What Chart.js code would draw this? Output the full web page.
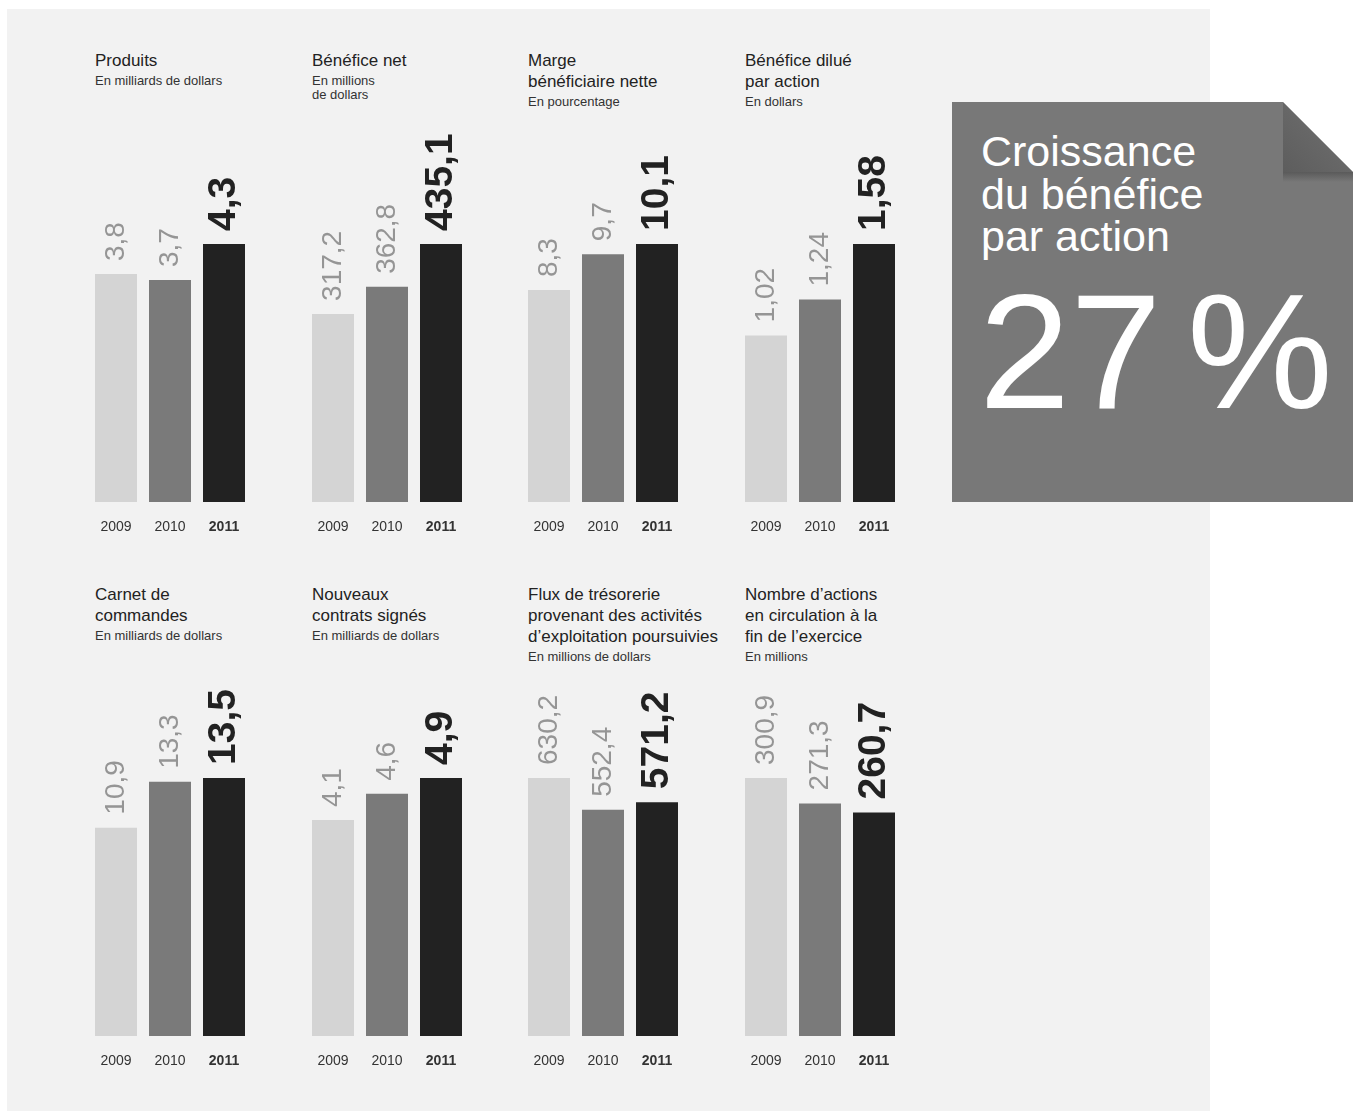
<!DOCTYPE html>
<html lang="fr">
<head>
<meta charset="utf-8">
<title>Faits saillants financiers</title>
<script src="https://cdn.jsdelivr.net/npm/chart.js@4"></script>
<style>
  body { margin: 0; background: #fff; font-family: "Liberation Sans", Arial, sans-serif; }
  #page { position: relative; width: 1354px; height: 1111px; overflow: hidden; }
  #panel { position: absolute; left: 7px; top: 9px; width: 1203px; height: 1102px; background: #f2f2f2; }
  .bloc { position: absolute; width: 200px; color: #222; }
  .titre { font-size: 17px; line-height: 21px; }
  .unite { font-size: 13px; line-height: 14px; margin-top: 3px; color: #333; }
  canvas.mini { position: absolute; }
  #encart { position: absolute; left: 952px; top: 102px; width: 401px; height: 400px; background: #787878;
    clip-path: polygon(0 0, 331px 0, 401px 70px, 401px 100%, 0 100%); }
  #encart .txt { position: absolute; left: 29px; top: 28px; color: #fff; font-size: 43px; line-height: 42.5px; }
  #encart .big { position: absolute; left: 27px; top: 167px; color: #fff; font-size: 164px; line-height: 166px; word-spacing: -20px; }
  #ombre { position: absolute; left: 331px; top: 70px; width: 70px; height: 10px;
    background: linear-gradient(to bottom, rgba(0,0,0,0.25), rgba(0,0,0,0)); }
  #pli { position: absolute; left: 331px; top: 0; width: 70px; height: 70px;
    background: linear-gradient(45deg, #5d5d5d, #727272);
    clip-path: polygon(0 0, 0 100%, 100% 100%); }
</style>
</head>
<body>
<div id="page">
  <div id="panel"></div>
  <div id="encart">
    <div id="ombre"></div>
    <div id="pli"></div>
    <div class="txt">Croissance<br>du bénéfice<br>par action</div>
    <div class="big">27 %</div>
  </div>
</div>
<script>
// données
const annees = ['2009', '2010', '2011'];
const produits = [3.8, 3.7, 4.3];
const beneficeNet = [317.2, 362.8, 435.1];
const margeNette = [8.3, 9.7, 10.1];
const beneficeDilue = [1.02, 1.24, 1.58];
const carnetCommandes = [10.9, 13.3, 13.5];
const nouveauxContrats = [4.1, 4.6, 4.9];
const fluxTresorerie = [630.2, 552.4, 571.2];
const nombreActions = [300.9, 271.3, 260.7];

const titres = [
  ['Produits', 'En milliards de dollars'],
  ['Bénéfice net', 'En millions<br>de dollars'],
  ['Marge<br>bénéficiaire nette', 'En pourcentage'],
  ['Bénéfice dilué<br>par action', 'En dollars'],
  ['Carnet de<br>commandes', 'En milliards de dollars'],
  ['Nouveaux<br>contrats signés', 'En milliards de dollars'],
  ['Flux de trésorerie<br>provenant des activités<br>d’exploitation poursuivies', 'En millions de dollars'],
  ['Nombre d’actions<br>en circulation à la<br>fin de l’exercice', 'En millions']
];
const series = [produits, beneficeNet, margeNette, beneficeDilue,
  carnetCommandes, nouveauxContrats, fluxTresorerie, nombreActions];

const couleurs = ['#d4d4d4', '#7a7a7a', '#222222'];
const colonnes = [89, 306, 522, 739];
const page = document.getElementById('page');
const police = '"Liberation Sans", Arial, sans-serif';

// étiquettes verticales au-dessus des barres
const etiquettes = {
  id: 'etiquettes',
  afterDatasetsDraw(chart) {
    const c = chart.ctx;
    const meta = chart.getDatasetMeta(0);
    const valeurs = chart.data.datasets[0].data;
    meta.data.forEach((barre, i) => {
      c.save();
      c.translate(barre.x, barre.y - 13);
      c.rotate(-Math.PI / 2);
      c.textAlign = 'left';
      c.textBaseline = 'middle';
      if (i === 2) {
        c.font = 'bold 39px ' + police;
        c.fillStyle = '#222';
      } else {
        c.font = '28px ' + police;
        c.fillStyle = '#959595';
      }
      c.fillText(String(valeurs[i]).replace('.', ','), 0, 0);
      c.restore();
    });
  }
};

series.forEach((valeurs, n) => {
  const col = n % 4;
  const decal = n < 4 ? 0 : 534;

  const bloc = document.createElement('div');
  bloc.className = 'bloc';
  bloc.style.left = (colonnes[col] + 6) + 'px';
  bloc.style.top = (50 + decal) + 'px';
  bloc.innerHTML = '<div class="titre">' + titres[n][0] + '</div><div class="unite">' + titres[n][1] + '</div>';
  page.appendChild(bloc);

  const canvas = document.createElement('canvas');
  canvas.className = 'mini';
  canvas.width = 162;
  canvas.height = 432;
  canvas.style.left = colonnes[col] + 'px';
  canvas.style.top = (110 + decal) + 'px';
  page.appendChild(canvas);

  new Chart(canvas, {
    type: 'bar',
    data: {
      labels: annees,
      datasets: [{
        data: valeurs,
        backgroundColor: couleurs,
        borderWidth: 0,
        barPercentage: 42 / 54,
        categoryPercentage: 1
      }]
    },
    options: {
      responsive: false,
      animation: false,
      devicePixelRatio: 1,
      layout: { padding: { top: 134, left: 0, right: 0, bottom: 0 } },
      plugins: { legend: { display: false }, tooltip: { enabled: false } },
      scales: {
        x: {
          grid: { display: false, drawTicks: true, tickLength: 17 },
          border: { display: false },
          ticks: {
            padding: 0,
            color: '#333',
            font: (ctx) => ({ family: police, size: 14, weight: ctx.index === 2 ? 'bold' : 'normal' })
          },
          afterFit(s) { s.height = 40; }
        },
        y: {
          display: false,
          min: 0,
          max: Math.max(...valeurs)
        }
      }
    },
    plugins: [etiquettes]
  });
});
</script>
</body>
</html>
